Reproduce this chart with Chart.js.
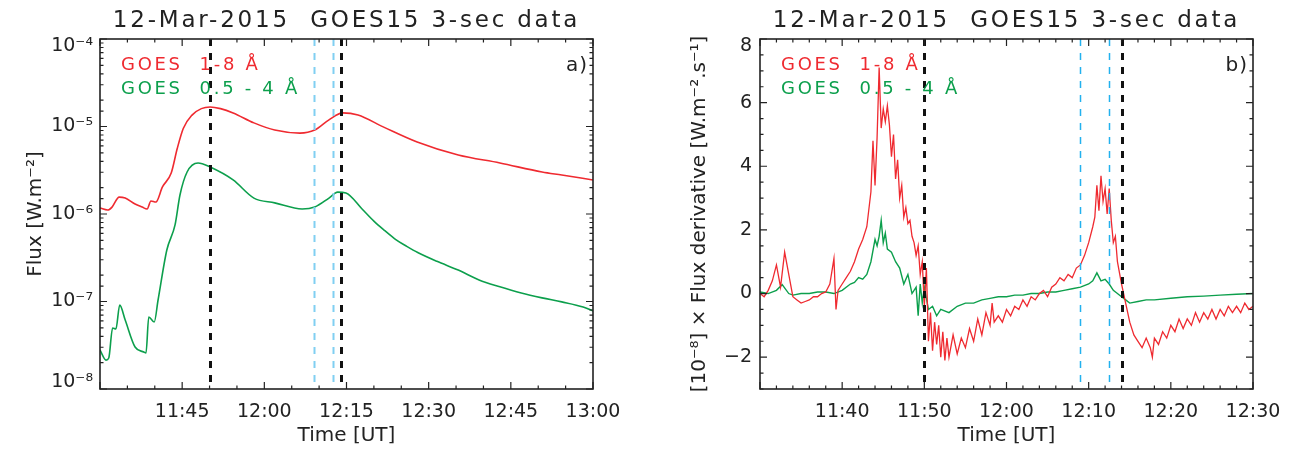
<!DOCTYPE html>
<html>
<head>
<meta charset="utf-8">
<script src="https://cdn.jsdelivr.net/npm/chart.js@4.4.1/dist/chart.umd.min.js"></script>
<style>
html, body { margin: 0; padding: 0; background: #fff; }
#wrap { position: relative; width: 1296px; height: 456px; }
.box { position: absolute; top: 0; width: 648px; height: 456px; }
</style>
</head>
<body>
<div id="wrap">
  <div class="box" style="left:0"><canvas id="fluxChart" width="648" height="456"></canvas></div>
  <div class="box" style="left:648px"><canvas id="derivChart" width="648" height="456"></canvas></div>
</div>
<script>
let titleText = '12-Mar-2015  GOES15 3-sec data';
let legendLabels = ['GOES  1-8 Å', 'GOES  0.5 - 4 Å'];
let startMinute = 11 * 60 + 30; // times below are minutes after 11:30 UT

// vertical markers (minutes after 11:30)
let markBlack = [20, 44];
let markBlue = [39, 42.5];

// a) flux, W/m^2
let longTime = [0, 1.4, 2.2, 3.5, 4.6, 6.4, 7.7, 8.6, 9.3, 10.2, 11.4, 13.0, 14.1, 15.2, 16.8, 18.5, 20.1, 22.0, 24.3, 28.1, 31.9, 36.5, 39.2, 41.8, 44.3, 47.1, 51.7, 57.9, 65.4, 73.0, 80.7, 84.3, 90];
let longFlux = [1.17e-6, 1.11e-6, 1.2e-6, 1.56e-6, 1.52e-6, 1.3e-6, 1.2e-6, 1.14e-6, 1.41e-6, 1.37e-6, 2.04e-6, 2.94e-6, 5.6e-6, 9.5e-6, 1.35e-5, 1.6e-5, 1.67e-5, 1.6e-5, 1.43e-5, 1.10e-5, 9.1e-6, 8.4e-6, 9.1e-6, 1.19e-5, 1.43e-5, 1.35e-5, 9.9e-6, 6.65e-6, 4.72e-6, 3.83e-6, 3.02e-6, 2.79e-6, 2.45e-6];
let shortTime = [0, 1.1, 1.6, 2.3, 2.9, 3.6, 4.6, 6.4, 8.0, 8.4, 8.9, 9.9, 10.6, 12.2, 13.7, 14.6, 15.9, 17.9, 20.1, 24.3, 28.1, 31.9, 36.9, 39.2, 41.8, 43.4, 44.9, 47.8, 50, 52, 54, 56, 58, 61.5, 65.4, 69.2, 73.0, 76.9, 80.7, 84.3, 88.2, 90];
let shortFlux = [2.79e-8, 2.14e-8, 2.26e-8, 4.98e-8, 4.85e-8, 9.1e-8, 6.15e-8, 3.02e-8, 2.65e-8, 2.58e-8, 6.65e-8, 5.83e-8, 1.04e-7, 3.88e-7, 7.5e-7, 1.65e-6, 3.02e-6, 3.83e-6, 3.44e-6, 2.45e-6, 1.52e-6, 1.34e-6, 1.14e-6, 1.2e-6, 1.52e-6, 1.78e-6, 1.74e-6, 1.15e-6, 8.3e-7, 6.45e-7, 5.1e-7, 4.27e-7, 3.63e-7, 2.88e-7, 2.29e-7, 1.76e-7, 1.47e-7, 1.25e-7, 1.10e-7, 9.9e-8, 8.65e-8, 7.8e-8];

// b) flux derivative, 1e-8 W/m^2/s
let longDerivTime = [0, 0.5, 1, 1.5, 2, 2.5, 3, 3.5, 4, 4.5, 5, 5.5, 6, 6.5, 7, 7.5, 8, 8.5, 9, 9.25, 9.5, 10, 10.5, 11, 11.5, 12, 12.5, 13, 13.5, 13.75, 14, 14.25, 14.5, 14.75, 15, 15.25, 15.5, 15.75, 16, 16.25, 16.5, 16.75, 17, 17.25, 17.5, 17.75, 18, 18.25, 18.5, 18.75, 19, 19.25, 19.5, 19.75, 20, 20.25, 20.5, 20.75, 21, 21.25, 21.5, 21.75, 22, 22.25, 22.5, 22.75, 23, 23.5, 24, 24.5, 25, 25.5, 26, 26.5, 27, 27.5, 28, 28.25, 28.5, 29, 29.5, 30, 30.5, 31, 31.5, 32, 32.5, 33, 33.5, 34, 34.5, 35, 35.5, 36, 36.5, 37, 37.5, 38, 38.5, 39, 39.5, 40, 40.5, 40.75, 41, 41.25, 41.5, 41.75, 42, 42.25, 42.5, 42.75, 43, 43.25, 43.5, 44, 44.5, 45, 45.5, 46, 46.5, 47, 47.5, 47.75, 48, 48.5, 49, 49.5, 50, 50.5, 51, 51.5, 52, 52.5, 53, 53.5, 54, 54.5, 55, 55.5, 56, 56.5, 57, 57.5, 58, 58.5, 59, 59.5, 60];
let longDeriv = [0.0, -0.1, 0.1, 0.4, 0.9, 0.2, 1.3, 0.6, -0.1, -0.2, -0.3, -0.25, -0.2, -0.1, -0.1, 0.0, 0.05, 0.3, 1.1, -0.5, 0.1, 0.3, 0.5, 0.7, 1.0, 1.4, 1.7, 2.1, 3.2, 4.8, 3.4, 4.9, 7.1, 5.2, 5.8, 5.4, 5.9, 5.3, 4.3, 5.0, 3.6, 4.2, 3.0, 3.4, 2.4, 2.7, 2.2, 2.3, 1.8, 1.6, 1.2, 1.5, 0.6, 1.0, -0.4, 0.8, -1.5, -0.6, -1.8, -0.9, -1.6, -1.0, -2.0, -1.2, -2.1, -1.4, -2.0, -1.3, -1.9, -1.4, -1.7, -1.1, -1.5, -0.8, -1.3, -0.6, -1.0, -0.3, -0.9, -0.7, -0.9, -0.5, -0.7, -0.4, -0.5, -0.2, -0.4, -0.1, -0.2, 0.0, 0.1, -0.1, 0.2, 0.3, 0.5, 0.4, 0.6, 0.5, 0.8, 0.9, 1.2, 1.6, 2.1, 2.4, 3.4, 2.6, 3.7, 2.9, 3.3, 2.5, 3.3, 2.3, 1.6, 1.8, 1.0, 0.3, -0.3, -0.9, -1.3, -1.5, -1.7, -1.4, -1.7, -2.0, -1.4, -1.6, -1.2, -1.4, -1.0, -1.2, -0.8, -1.1, -0.8, -1.0, -0.6, -0.9, -0.6, -0.8, -0.5, -0.8, -0.5, -0.7, -0.4, -0.6, -0.4, -0.6, -0.3, -0.5, -0.4];
let shortDerivTime = [0, 1, 2, 2.7, 3.5, 4, 5, 6, 7, 8, 9, 10, 11, 11.5, 12, 12.5, 13, 13.5, 14, 14.25, 14.5, 14.75, 15, 15.25, 15.5, 16, 16.5, 17, 17.5, 18, 18.5, 19, 19.25, 19.5, 19.75, 20, 20.5, 21, 21.5, 22, 23, 24, 25, 26, 27, 28, 29, 30, 31, 32, 33, 34, 35, 36, 37, 38, 39, 40, 40.5, 41, 41.5, 42, 42.5, 43, 43.5, 44, 44.5, 45, 46, 47, 48, 50, 52, 54, 56, 58, 60];
let shortDeriv = [0.05, 0.0, 0.1, 0.28, 0.0, -0.05, 0.0, 0.0, 0.05, 0.05, 0.0, 0.1, 0.3, 0.35, 0.5, 0.45, 0.6, 1.0, 1.7, 1.5, 1.8, 2.3, 1.6, 1.9, 1.4, 1.3, 1.0, 0.8, 0.3, 0.6, 0.0, 0.2, -0.7, 0.3, -0.3, 0.2, -0.5, -0.4, -0.7, -0.5, -0.6, -0.4, -0.3, -0.3, -0.2, -0.15, -0.1, -0.1, -0.05, -0.05, 0.0, 0.0, 0.05, 0.05, 0.1, 0.15, 0.2, 0.3, 0.4, 0.65, 0.4, 0.45, 0.3, 0.1, 0.0, -0.1, -0.2, -0.3, -0.25, -0.2, -0.2, -0.15, -0.1, -0.08, -0.05, -0.02, 0.0];

let red = '#ef2a30';
let green = '#0c9f4c';

Chart.defaults.font.family = '"DejaVu Sans", sans-serif';
Chart.defaults.color = '#222';

const sup = { '-': '⁻', '0': '⁰', '1': '¹', '2': '²', '3': '³', '4': '⁴', '5': '⁵', '6': '⁶', '7': '⁷', '8': '⁸', '9': '⁹' };
function powLabel(e) {
  return '10' + String(e).split('').map(c => sup[c]).join('');
}
function clock(m) {
  let t = startMinute + m;
  return Math.floor(t / 60) + ':' + String(Math.round(t % 60)).padStart(2, '0');
}
function pairs(xs, ys) {
  return xs.map((x, i) => ({ x: x, y: ys[i] }));
}
function isDecade(v) {
  let e = Math.log10(v);
  return Math.abs(e - Math.round(e)) < 1e-6;
}

// frame, inward ticks on all four sides, dashed markers and the texts
const decor = {
  id: 'decor',
  afterDatasetsDraw(chart, args, o) {
    const { ctx, chartArea: a } = chart;
    const x = chart.scales.x;
    ctx.save();
    ctx.beginPath();
    ctx.rect(a.left, a.top, a.right - a.left, a.bottom - a.top);
    ctx.clip();
    const mark = (v, color, w) => {
      let px = Math.round(x.getPixelForValue(v)) + 0.5;
      ctx.strokeStyle = color;
      ctx.lineWidth = w;
      ctx.setLineDash([7, 7]);
      ctx.beginPath();
      ctx.moveTo(px, a.top);
      ctx.lineTo(px, a.bottom);
      ctx.stroke();
    };
    markBlue.forEach(v => mark(v, o.blue, o.blueWidth));
    markBlack.forEach(v => mark(v, '#111', 3));
    ctx.restore();
  },
  afterDraw(chart, args, o) {
    const { ctx, chartArea: a } = chart;
    const { x, y } = chart.scales;
    ctx.save();
    ctx.strokeStyle = '#222';
    ctx.lineWidth = 1.2;
    ctx.beginPath();
    x.ticks.forEach(t => {
      let px = x.getPixelForValue(t.value);
      let len = o.xMajor(t.value) ? 7 : 3.5;
      ctx.moveTo(px, a.bottom); ctx.lineTo(px, a.bottom - len);
      ctx.moveTo(px, a.top); ctx.lineTo(px, a.top + len);
    });
    y.ticks.forEach(t => {
      let py = y.getPixelForValue(t.value);
      let len = o.yMajor(t.value) ? 7 : 3.5;
      ctx.moveTo(a.left, py); ctx.lineTo(a.left + len, py);
      ctx.moveTo(a.right, py); ctx.lineTo(a.right - len, py);
    });
    ctx.stroke();
    ctx.lineWidth = 1.6;
    ctx.strokeRect(a.left, a.top, a.right - a.left, a.bottom - a.top);

    ctx.fillStyle = '#222';
    ctx.textBaseline = 'alphabetic';
    ctx.textAlign = 'center';
    ctx.font = '23px "DejaVu Sans"';
    ctx.letterSpacing = '2.8px';
    ctx.fillText(titleText, (a.left + a.right) / 2, 27);

    ctx.textAlign = 'left';
    ctx.font = '18px "DejaVu Sans"';
    ctx.letterSpacing = '2.7px';
    ctx.fillStyle = red;
    ctx.fillText(legendLabels[0], a.left + 21, 70);
    ctx.fillStyle = green;
    ctx.fillText(legendLabels[1], a.left + 21, 94);

    ctx.fillStyle = '#222';
    ctx.textAlign = 'right';
    ctx.font = '20px "DejaVu Sans"';
    ctx.letterSpacing = '1px';
    ctx.fillText(o.label, a.right - 5, 71);
    ctx.restore();
  }
};

function lineSet(data, color, width, smooth) {
  return {
    data: data,
    borderColor: color,
    borderWidth: width,
    pointRadius: 0,
    tension: 0,
    cubicInterpolationMode: smooth ? 'monotone' : 'default',
    fill: false
  };
}

function timeAxis(max, step, major) {
  return {
    type: 'linear',
    min: 0,
    max: max,
    afterFit: s => { s.height = 67; },
    grid: { display: false, drawTicks: false },
    border: { display: false },
    ticks: {
      stepSize: step,
      autoSkip: false,
      maxRotation: 0,
      padding: 12,
      font: { size: 19 },
      callback: v => (v > 0 && v % major === 0) ? clock(v) : ''
    },
    title: { display: true, text: 'Time [UT]', font: { size: 20 }, padding: { top: 0, bottom: 8 } }
  };
}

new Chart(document.getElementById('fluxChart'), {
  type: 'line',
  data: {
    datasets: [
      lineSet(pairs(longTime, longFlux), red, 1.6, true),
      lineSet(pairs(shortTime, shortFlux), green, 1.6, true)
    ]
  },
  options: {
    responsive: false,
    animation: false,
    layout: { padding: { left: 0, right: 55, top: 39, bottom: 0 } },
    plugins: {
      legend: { display: false },
      tooltip: { enabled: false },
      decor: {
        label: 'a)',
        blue: '#80cff2',
        blueWidth: 2,
        xMajor: v => v % 15 === 0,
        yMajor: v => isDecade(v)
      }
    },
    scales: {
      x: timeAxis(90, 5, 15),
      y: {
        type: 'logarithmic',
        min: 1e-8,
        max: 1e-4,
        afterFit: s => { s.width = 100; },
        grid: { display: false, drawTicks: false },
        border: { display: false },
        ticks: {
          autoSkip: false,
          padding: 7,
          font: { size: 19, lineHeight: 0.75 },
          callback: v => {
            if (!isDecade(v)) return '';
            let e = Math.round(Math.log10(v));
            if (e === -4) return ['', powLabel(e)];
            if (e === -8) return [powLabel(e), ''];
            return powLabel(e);
          }
        },
        title: { display: true, text: 'Flux [W.m⁻²]', font: { size: 20 }, padding: { top: 24, bottom: 0 } }
      }
    }
  },
  plugins: [decor]
});

new Chart(document.getElementById('derivChart'), {
  type: 'line',
  data: {
    datasets: [
      lineSet(pairs(longDerivTime, longDeriv), red, 1.3, false),
      lineSet(pairs(shortDerivTime, shortDeriv), green, 1.4, false)
    ]
  },
  options: {
    responsive: false,
    animation: false,
    layout: { padding: { left: 0, right: 43, top: 39, bottom: 0 } },
    plugins: {
      legend: { display: false },
      tooltip: { enabled: false },
      decor: {
        label: 'b)',
        blue: '#22b1ee',
        blueWidth: 1.5,
        xMajor: v => v % 10 === 0,
        yMajor: v => Number.isInteger(v) && v % 2 === 0
      }
    },
    scales: {
      x: timeAxis(60, 2, 10),
      y: {
        type: 'linear',
        min: -3,
        max: 8,
        afterFit: s => { s.width = 112; },
        grid: { display: false, drawTicks: false },
        border: { display: false },
        ticks: {
          stepSize: 0.5,
          autoSkip: false,
          padding: 8,
          font: { size: 19, lineHeight: 0.75 },
          callback: v => {
            if (!(Number.isInteger(v) && v % 2 === 0)) return '';
            let s = v < 0 ? '−' + Math.abs(v) : String(v);
            return v === 8 ? ['', s] : s;
          }
        },
        title: { display: true, text: '[10⁻⁸] × Flux derivative [W.m⁻².s⁻¹]', font: { size: 20 }, padding: { top: 40, bottom: 0 } }
      }
    }
  },
  plugins: [decor]
});
</script>
</body>
</html>
